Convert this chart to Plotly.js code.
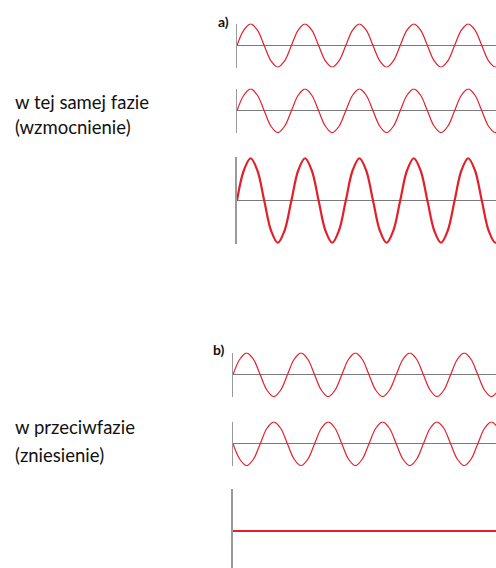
<!DOCTYPE html>
<html>
<head>
<meta charset="utf-8">
<script src="https://cdn.plot.ly/plotly-3.0.1.min.js"></script>
<style>html,body{margin:0;padding:0;background:#fff;}#chart{width:496px;height:568px;}</style>
</head>
<body>
<div id="chart"></div>
<script>
// phase in periods (8 samples per period)
const phase = [0,0.125,0.25,0.375,0.5,0.625,0.75,0.875,1,1.125,1.25,1.375,1.5,1.625,1.75,1.875,2,2.125,2.25,2.375,2.5,2.625,2.75,2.875,3,3.125,3.25,3.375,3.5,3.625,3.75,3.875,4,4.125,4.25,4.375,4.5,4.625,4.75,4.875,5];
// a) in phase
const waveA1 = [0,0.71,1,0.71,0,-0.71,-1,-0.71,0,0.71,1,0.71,0,-0.71,-1,-0.71,0,0.71,1,0.71,0,-0.71,-1,-0.71,0,0.71,1,0.71,0,-0.71,-1,-0.71,0,0.71,1,0.71,0,-0.71,-1,-0.71,0];
const waveA2 = [0,0.71,1,0.71,0,-0.71,-1,-0.71,0,0.71,1,0.71,0,-0.71,-1,-0.71,0,0.71,1,0.71,0,-0.71,-1,-0.71,0,0.71,1,0.71,0,-0.71,-1,-0.71,0,0.71,1,0.71,0,-0.71,-1,-0.71,0];
const waveA3 = [0,1.42,2,1.42,0,-1.42,-2,-1.42,0,1.42,2,1.42,0,-1.42,-2,-1.42,0,1.42,2,1.42,0,-1.42,-2,-1.42,0,1.42,2,1.42,0,-1.42,-2,-1.42,0,1.42,2,1.42,0,-1.42,-2,-1.42,0];
// b) antiphase
const waveB1 = [0,0.71,1,0.71,0,-0.71,-1,-0.71,0,0.71,1,0.71,0,-0.71,-1,-0.71,0,0.71,1,0.71,0,-0.71,-1,-0.71,0,0.71,1,0.71,0,-0.71,-1,-0.71,0,0.71,1,0.71,0,-0.71,-1,-0.71,0];
const waveB2 = [0,-0.71,-1,-0.71,0,0.71,1,0.71,0,-0.71,-1,-0.71,0,0.71,1,0.71,0,-0.71,-1,-0.71,0,0.71,1,0.71,0,-0.71,-1,-0.71,0,0.71,1,0.71,0,-0.71,-1,-0.71,0,0.71,1,0.71,0];
const waveB3 = [0,0,0,0,0,0,0,0,0,0,0,0,0,0,0,0,0,0,0,0,0,0,0,0,0,0,0,0,0,0,0,0,0,0,0,0,0,0,0,0,0];

const labelA = ["w tej samej fazie", "(wzmocnienie)"];
const labelB = ["w przeciwfazie", "(zniesienie)"];

const W = 496, H = 568;
const RED = "#e3202a";
const f = py => 1 - py / H;

const panels = [
  {y: waveA1, x0: 237, top: 23.5, bot: 67.5, range: [-1.02, 1.02], w: 1.2, aw: 1.5},
  {y: waveA2, x0: 237, top: 88.5, bot: 133, range: [-1.02, 1.02], w: 1.2, aw: 1.5},
  {y: waveA3, x0: 237, top: 157, bot: 244, range: [-2.06, 2.06], w: 2.2, aw: 2},
  {y: waveB1, x0: 233, top: 352.5, bot: 397, range: [-1.02, 1.02], w: 1.2, aw: 1.5},
  {y: waveB2, x0: 233, top: 421.5, bot: 466, range: [-1.02, 1.02], w: 1.2, aw: 1.5},
  {y: waveB3, x0: 233, top: 489, bot: 568, range: [-1.76, 2], w: 2.2, aw: 2}
];
const PERIOD_PX = 54.4;

const data = [];
const layout = {
  width: W, height: H,
  margin: {l: 0, r: 0, t: 0, b: 0},
  paper_bgcolor: "#fff", plot_bgcolor: "rgba(0,0,0,0)",
  showlegend: false,
  annotations: []
};
panels.forEach((p, i) => {
  const n = i === 0 ? "" : String(i + 1);
  data.push({
    x: phase, y: p.y, type: "scatter", mode: "lines",
    line: {color: RED, width: p.w, shape: "spline", smoothing: 1},
    xaxis: "x" + n, yaxis: "y" + n, hoverinfo: "skip"
  });
  layout["xaxis" + n] = {
    domain: [p.x0 / W, 1], range: [0, (W - p.x0) / PERIOD_PX],
    anchor: "y" + n, showgrid: false, zeroline: false, showline: false,
    showticklabels: false, ticks: "", fixedrange: true
  };
  layout["yaxis" + n] = {
    domain: [f(p.bot), f(p.top)], range: p.range,
    anchor: "x" + n, showgrid: false, showticklabels: false, ticks: "",
    showline: true, linecolor: "#9a9a9a", linewidth: p.aw,
    zeroline: true, zerolinecolor: "#7a7a7a", zerolinewidth: 1.2, fixedrange: true
  };
});

const txtFont = {family: "Lato, 'Noto Sans', sans-serif", size: 18.5, color: "#111"};
function addText(t, px, py, font) {
  layout.annotations.push({
    text: t, xref: "paper", yref: "paper", x: px / W, y: f(py),
    xanchor: "left", yanchor: "middle", showarrow: false, align: "left", font: font
  });
}
addText(labelA[0], 13, 102, txtFont);
addText(labelA[1], 13, 127, txtFont);
addText(labelB[0], 13, 427, txtFont);
addText(labelB[1], 13, 455, txtFont);
const tagFont = {family: "Lato, 'Noto Sans', sans-serif", size: 14, color: "#111"};
addText("<b>a)</b>", 216, 21, tagFont);
addText("<b>b)</b>", 211, 349, tagFont);

Plotly.newPlot("chart", data, layout, {staticPlot: true, displayModeBar: false});
</script>
</body>
</html>
